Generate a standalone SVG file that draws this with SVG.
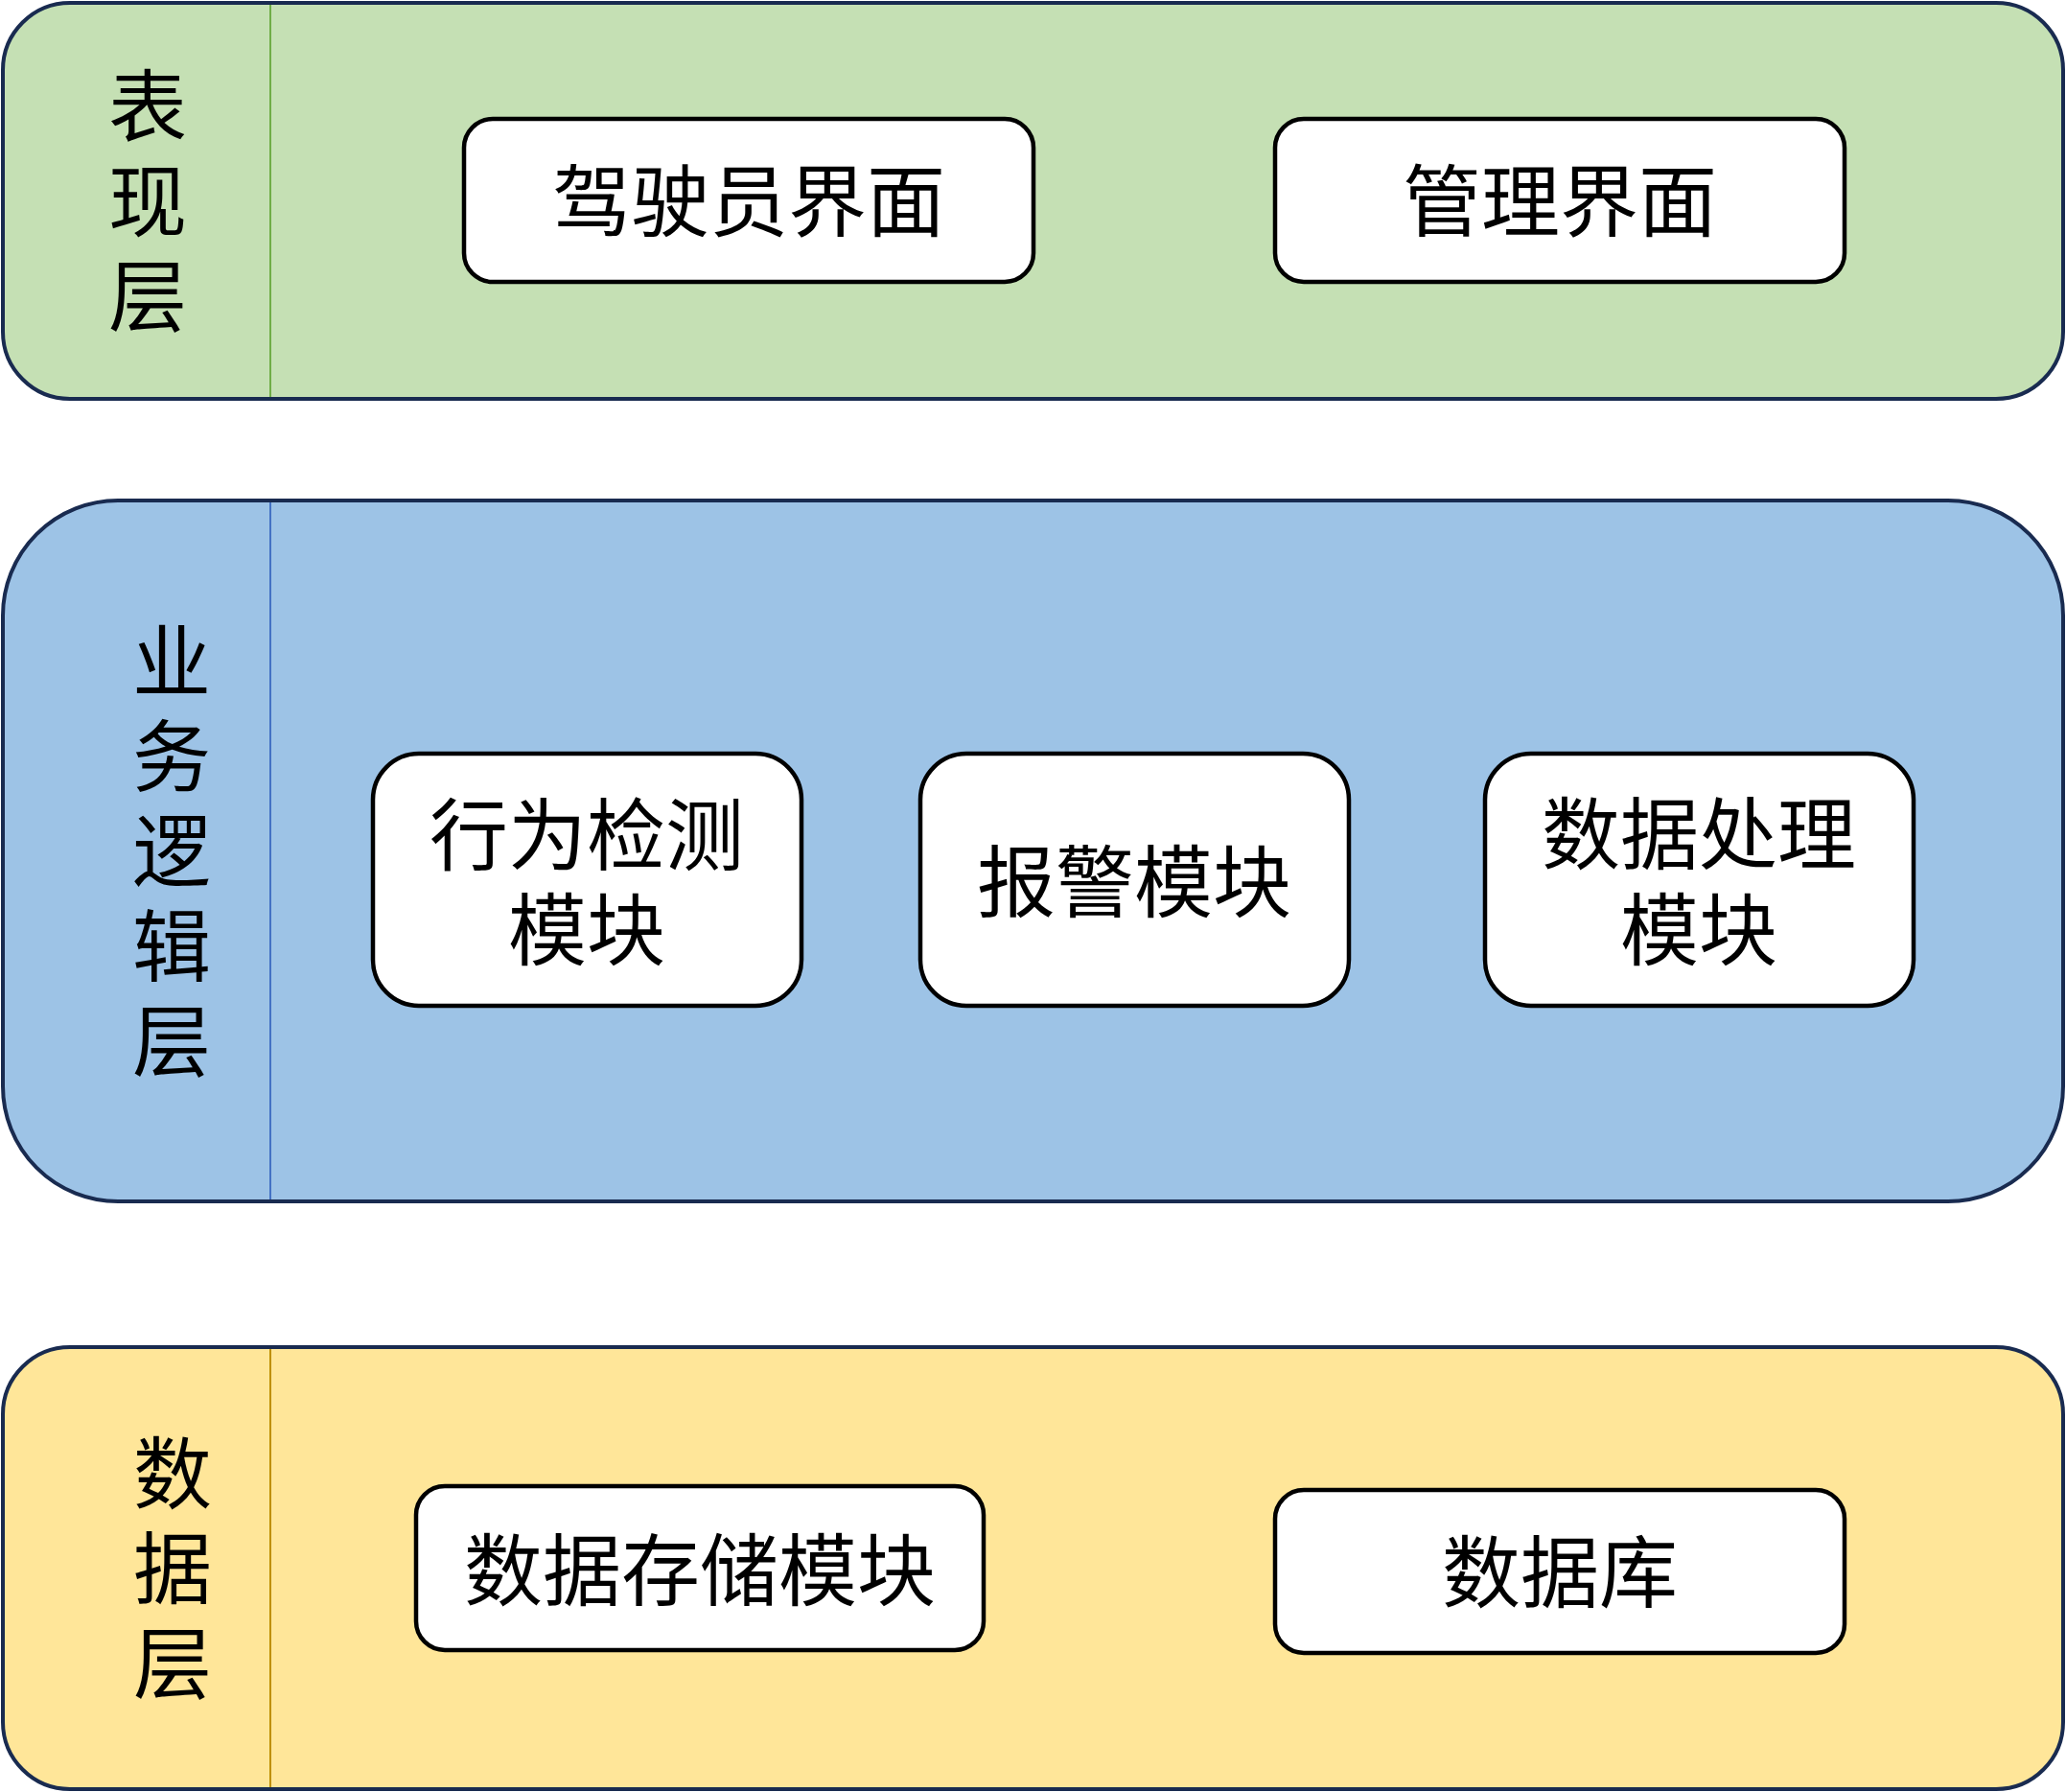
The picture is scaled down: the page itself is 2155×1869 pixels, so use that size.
<svg xmlns="http://www.w3.org/2000/svg" width="2155" height="1869" viewBox="0 0 2155 1869">
<style>
.layer{stroke:#192B50;stroke-width:4}
.box{fill:#FFFFFF;stroke:#000000;stroke-width:4.5}
text{font-family:"Noto Sans CJK SC","Noto Sans",sans-serif;font-size:82px;fill:#000000;text-anchor:middle}
text.v{writing-mode:vertical-rl;text-orientation:upright;text-anchor:start;letter-spacing:17px}
</style>
<rect width="2155" height="1869" fill="#FFFFFF"/>
<g id="layer-presentation">
<rect class="layer" x="3" y="3" width="2149" height="413" rx="70" ry="70" fill="#C5E0B4"/>
<line x1="282" y1="5" x2="282" y2="414" stroke="#70AD47" stroke-width="2"/>
<text class="v" x="154" y="69">表现层</text>
</g>
<g id="layer-business">
<rect class="layer" x="3" y="522" width="2149" height="731" rx="120" ry="120" fill="#9DC3E6"/>
<line x1="282" y1="524" x2="282" y2="1251" stroke="#4472C4" stroke-width="2"/>
<text class="v" x="179" y="648">业务逻辑层</text>
</g>
<g id="layer-data">
<rect class="layer" x="3" y="1405" width="2149" height="461" rx="70" ry="70" fill="#FFE699"/>
<line x1="282" y1="1407" x2="282" y2="1864" stroke="#BF9000" stroke-width="2"/>
<text class="v" x="180" y="1495">数据层</text>
</g>
<g id="node-driver-ui">
<rect class="box" x="484" y="124" width="594" height="170" rx="30" ry="30"/>
<text x="781" y="240">驾驶员界面</text>
</g>
<g id="node-admin-ui">
<rect class="box" x="1330" y="124" width="594" height="170" rx="30" ry="30"/>
<text x="1627" y="240">管理界面</text>
</g>
<g id="node-behavior">
<rect class="box" x="389" y="786" width="447" height="263" rx="48" ry="48"/>
<text x="612" y="901"><tspan x="612" y="901">行为检测</tspan><tspan x="612" y="1000">模块</tspan></text>
</g>
<g id="node-alarm">
<rect class="box" x="960" y="786" width="447" height="263" rx="48" ry="48"/>
<text x="1183" y="950">报警模块</text>
</g>
<g id="node-processing">
<rect class="box" x="1549" y="786" width="447" height="263" rx="48" ry="48"/>
<text x="1772" y="900"><tspan x="1772" y="900">数据处理</tspan><tspan x="1772" y="1000">模块</tspan></text>
</g>
<g id="node-storage">
<rect class="box" x="434" y="1550" width="592" height="171" rx="30" ry="30"/>
<text x="730" y="1668">数据存储模块</text>
</g>
<g id="node-database">
<rect class="box" x="1330" y="1554" width="594" height="170" rx="30" ry="30"/>
<text x="1627" y="1670">数据库</text>
</g>
<g id="connectors"></g>
</svg>
